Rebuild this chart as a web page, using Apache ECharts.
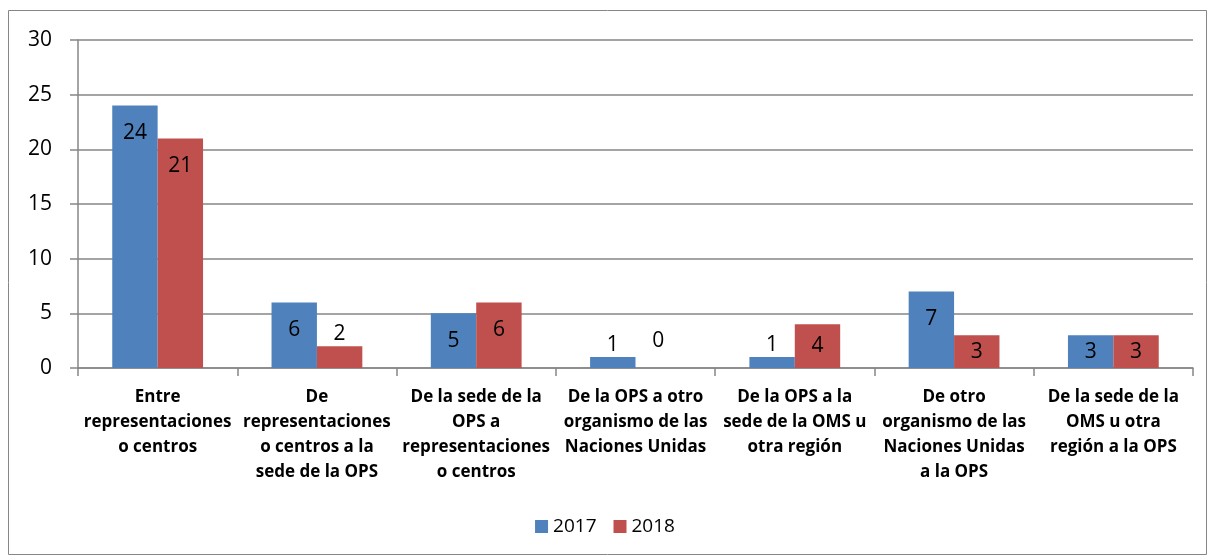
<!DOCTYPE html>
<html>
<head>
<meta charset="utf-8">
<script src="https://cdn.jsdelivr.net/npm/echarts@6/dist/echarts.min.js"></script>
<style>
  html, body {margin: 0; padding: 0; background: #fff;}
  #chart {width: 1210px; height: 558px;}
</style>
</head>
<body>
<div id="chart"></div>
<script>
const categories = [
    'Entre\nrepresentaciones\no centros',
    'De\nrepresentaciones\no centros a la\nsede de la OPS',
    'De la sede de la\nOPS a\nrepresentaciones\no centros',
    'De la OPS a otro\norganismo de las\nNaciones Unidas',
    'De la OPS a la\nsede de la OMS u\notra región',
    'De otro\norganismo de las\nNaciones Unidas\na la OPS',
    'De la sede de la\nOMS u otra\nregión a la OPS'
];
const values2017 = [24, 6, 5, 1, 1, 7, 3];
const values2018 = [21, 2, 6, 0, 4, 3, 3];
const yTicks = [0, 5, 10, 15, 20, 25, 30];

const font = '"Open Sans", Lato, sans-serif';

// Excel-ish label placement: near the top inside tall bars, above tiny ones
function labelFor (v){
    if (v >= 5) return {position: 'insideTop', distance: 17};
    if (v >= 3) return {position: 'inside'};
    return {position: 'top', distance: v === 0 ? 16 : 2};
}

function makeSeries (name, values, color){
    return {
        name,
        type: 'bar',
        barGap: 0,
        barCategoryGap: '43%',
        itemStyle: {color},
        data: values.map(v => ({value: v, label: labelFor(v)})),
        label: {
            show: true,
            color: '#000',
            fontSize: 21,
            fontFamily: font
        }
    };
}

const chart = echarts.init(document.getElementById('chart'));
chart.setOption({
    animation: false,
    graphic: [{
        type: 'rect',
        shape: {x: 8.5, y: 10.5, width: 1198, height: 544},
        style: {fill: 'none', stroke: '#868686', lineWidth: 1},
        silent: true
    }],
    grid: {left: 78, right: 17, top: 40, bottom: 190},
    legend: {
        bottom: 17,
        left: 'center',
        itemWidth: 13,
        itemHeight: 13,
        itemGap: 17,
        icon: 'rect',
        textStyle: {fontSize: 19, color: '#000', fontFamily: font},
        data: ['2017', '2018']
    },
    xAxis: {
        type: 'category',
        data: categories,
        axisLine: {lineStyle: {color: '#868686', width: 1.5}},
        axisTick: {show: true, length: 8, alignWithLabel: false, lineStyle: {color: '#868686', width: 1.5}},
        axisLabel: {
            interval: 0,
            margin: 17,
            fontSize: 17,
            fontWeight: 'bold',
            lineHeight: 25,
            color: '#000',
            fontFamily: font
        }
    },
    yAxis: {
        type: 'value',
        min: yTicks[0],
        max: yTicks[yTicks.length - 1],
        interval: 5,
        axisLine: {show: true, lineStyle: {color: '#868686', width: 1.5}},
        axisTick: {show: true, length: 8, lineStyle: {color: '#868686', width: 1.5}},
        axisLabel: {
            margin: 26,
            fontSize: 21,
            color: '#000',
            fontFamily: font
        },
        splitLine: {lineStyle: {color: '#868686', width: 1.5}}
    },
    series: [
        makeSeries('2017', values2017, '#4F81BD'),
        makeSeries('2018', values2018, '#C0504D')
    ]
});
</script>
</body>
</html>
